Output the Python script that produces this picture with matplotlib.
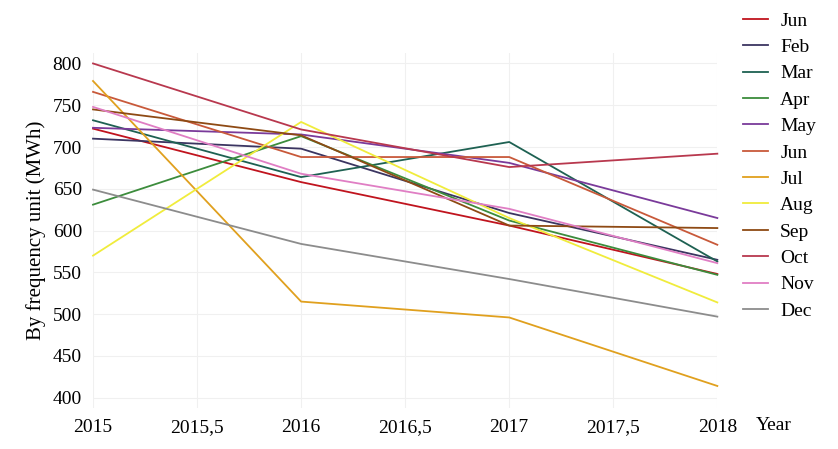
import matplotlib.pyplot as plt

plt.rcParams['font.family'] = ['Liberation Serif', 'DejaVu Serif']

# data
years = [2015, 2016, 2017, 2018]
months = ['Jun', 'Feb', 'Mar', 'Apr', 'May', 'Jun', 'Jul', 'Aug', 'Sep', 'Oct', 'Nov', 'Dec']
jun_a = [722, 658, 606, 548]
feb = [710, 698, 621, 565]
mar = [732, 664, 706, 563]
apr = [631, 713, 612, 547]
may = [723, 715, 681, 615]
jun_b = [766, 688, 688, 583]
jul = [779, 515, 496, 414]
aug = [570, 730, 615, 514]
sep = [745, 714, 606, 603]
octo = [800, 721, 676, 692]
nov = [748, 668, 626, 561]
dec = [649, 584, 542, 497]
series = [jun_a, feb, mar, apr, may, jun_b, jul, aug, sep, octo, nov, dec]
colors = ['#C0141E', '#3B3561', '#1E6152', '#3C8C3C', '#7A3A9A', '#C8593A',
          '#E0A01E', '#F0EC3C', '#8E4A14', '#B8384E', '#E07EC4', '#8C8C8C']
xticks = [2015, 2015.5, 2016, 2016.5, 2017, 2017.5, 2018]
xtick_labels = ['2015', '2015,5', '2016', '2016,5', '2017', '2017,5', '2018']
yticks = [400, 450, 500, 550, 600, 650, 700, 750, 800]

fig = plt.figure(figsize=(8.38, 4.49), dpi=100)
ax = fig.add_axes([0.111, 0.092, 0.745, 0.789])

for vals, c, name in zip(series, colors, months):
    ax.plot(years, vals, color=c, linewidth=1.3, label=name, clip_on=False)

ax.set_xlim(2015, 2018)
ax.set_ylim(388, 812)
ax.set_xticks(xticks)
ax.set_xticklabels(xtick_labels)
ax.set_yticks(yticks)
ax.tick_params(length=0, labelsize=14, pad=8)
ax.grid(True, color='#f0f0f0', linewidth=0.8)
ax.set_axisbelow(True)
for s in ax.spines.values():
    s.set_visible(False)
ax.set_ylabel('By frequency unit (MWh)', fontsize=15, labelpad=5)
fig.text(0.902, 0.052, 'Year', fontsize=14, ha='left', va='center')

fig.legend(loc='upper left', bbox_to_anchor=(0.866, 1.012), frameon=False,
           fontsize=14, handlelength=1.3, handletextpad=0.6, labelspacing=0.45)

fig.savefig('out.png', dpi=100)
